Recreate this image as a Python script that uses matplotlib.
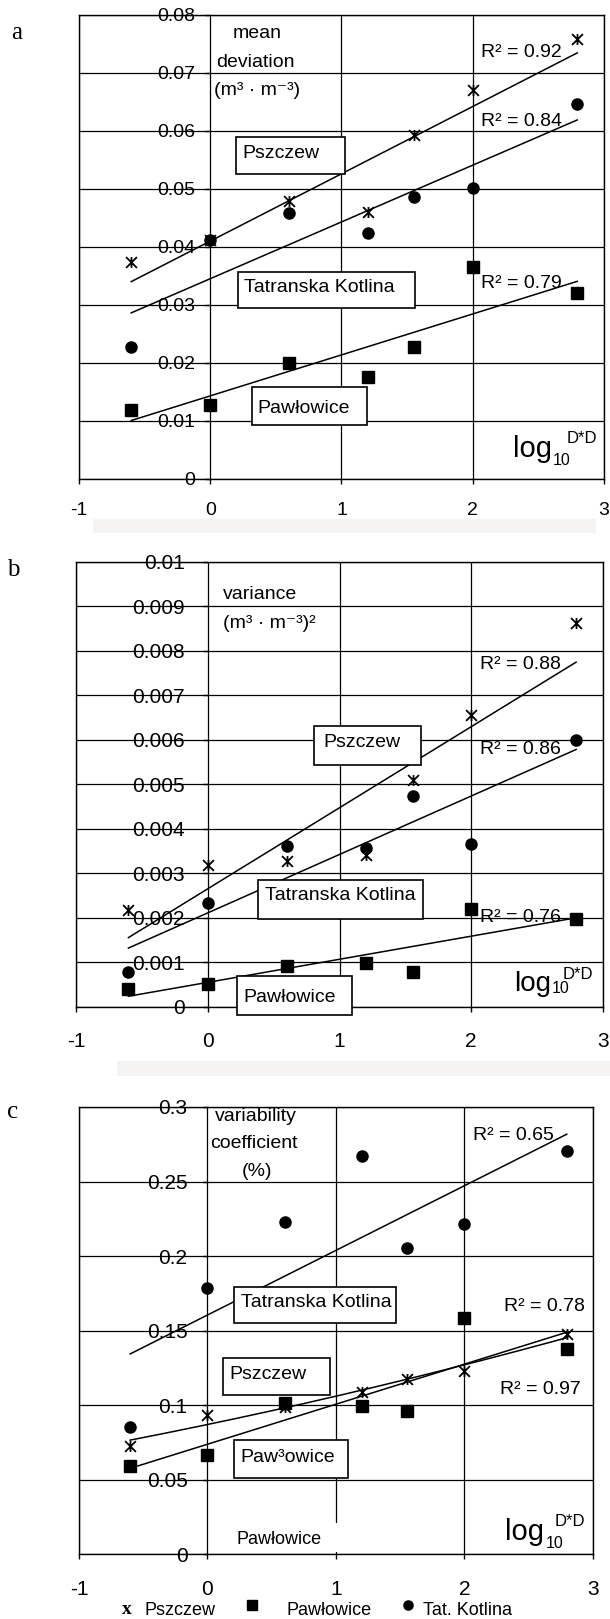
import numpy as np
import matplotlib
matplotlib.use("Agg")
import matplotlib.pyplot as plt
from matplotlib.patches import Rectangle
from matplotlib.lines import Line2D
from matplotlib.path import Path

plt.rcParams['font.family'] = ['Liberation Sans', 'DejaVu Sans']
plt.rcParams['axes.unicode_minus'] = False

# ---------------- data ----------------
log_dd = [-0.602, 0.0, 0.602, 1.204, 1.556, 2.0, 2.796]
x_ticks = [-1, 0, 1, 2, 3]

a_pszczew = [0.0374, 0.0412, 0.0479, 0.0460, 0.0593, 0.0671, 0.0759]
a_pawlowice = [0.0119, 0.0128, 0.0200, 0.0176, 0.0228, 0.0366, 0.0320]
a_tatkotlina = [0.0228, 0.0412, 0.0459, 0.0424, 0.0486, 0.0502, 0.0646]
a_yticks = [0, 0.01, 0.02, 0.03, 0.04, 0.05, 0.06, 0.07, 0.08]

b_pszczew = [0.00217, 0.00318, 0.00328, 0.00340, 0.00510, 0.00656, 0.00862]
b_pawlowice = [0.00039, 0.00050, 0.00091, 0.00099, 0.00079, 0.00219, 0.00198]
b_tatkotlina = [0.00077, 0.00232, 0.00362, 0.00357, 0.00474, 0.00366, 0.00600]
b_yticks = [0, 0.001, 0.002, 0.003, 0.004, 0.005, 0.006, 0.007, 0.008, 0.009, 0.01]

c_pszczew = [0.0724, 0.0932, 0.0988, 0.1086, 0.1176, 0.1227, 0.1477]
c_pawlowice = [0.0589, 0.0665, 0.1012, 0.0993, 0.0963, 0.1587, 0.1379]
c_tatkotlina = [0.0849, 0.1782, 0.2228, 0.2670, 0.2056, 0.2215, 0.2707]
c_yticks = [0, 0.05, 0.1, 0.15, 0.2, 0.25, 0.3]

legend_labels = ["Pszczew", "Pawłowice", "Tat. Kotlina"]

# ---------------- figure ----------------
W, H = 610, 1619
fig = plt.figure(figsize=(W / 100, H / 100), dpi=100)


def fx(px):
    return px / W


def fy(py):
    return 1 - py / H


ast = Path([(0, -1), (0, 1), (-1, -1), (1, 1), (-1, 1), (1, -1)],
           [Path.MOVETO, Path.LINETO, Path.MOVETO, Path.LINETO, Path.MOVETO, Path.LINETO])


def make_axes(l, r, t, b):
    return fig.add_axes([fx(l), fy(b), fx(r - l), (b - t) / H])


def setup(ax, ymax, yticks, lab_size, ypad, xpad):
    ax.set_xlim(-1, 3)
    ax.set_ylim(0, ymax)
    ax.set_axisbelow(True)
    ax.set_xticks(x_ticks)
    ax.set_xticklabels([f"{v:g}" for v in x_ticks])
    ax.set_yticks(yticks)
    ax.tick_params(axis='y', left=False, labelleft=False)
    ax.tick_params(axis='x', direction='out', length=3.6, width=1,
                   labelsize=lab_size, pad=xpad, colors='black')
    ax.grid(True, color='black', lw=0.9)
    for s in ax.spines.values():
        s.set_linewidth(1.0)
        s.set_color('black')
    sec = ax.secondary_yaxis(0.25)
    sec.set_yticks(yticks)
    sec.set_yticklabels([f"{v:g}" for v in yticks])
    sec.tick_params(direction='out', length=3.6, width=1, labelsize=lab_size,
                    pad=ypad)
    sec.spines['left'].set_visible(False)


def trend(ax, y, deg=1):
    coef = np.polyfit(log_dd, y, deg)
    xs = np.linspace(min(log_dd), max(log_dd), 200)
    ax.plot(xs, np.polyval(coef, xs), color='black', lw=1.1, zorder=2)


def points(ax, psz, paw, tat):
    ax.plot(log_dd, tat, 'o', color='black', ms=8, zorder=3, clip_on=False)
    ax.plot(log_dd, paw, 's', color='black', ms=8.2, zorder=3, clip_on=False)
    ax.plot(log_dd, psz, ls='none', marker=ast, color='black', ms=7.8, mew=1.3,
            zorder=3.1, clip_on=False)


def box(ax, x0, x1, y0, y1, tx, ty, text, size=14):
    ax.add_patch(Rectangle((x0, y0), x1 - x0, y1 - y0, facecolor='white',
                           edgecolor='black', lw=1.2, zorder=4, clip_on=False))
    ax.annotate(text, (tx, ty), xytext=(0, -1.5), textcoords='offset points',
                fontsize=size, ha='left', va='center', zorder=5)


def logtext(ax, p_log, p_10, p_dd, size_log):
    ax.text(*p_log, "log", fontsize=size_log, ha='left', va='baseline', zorder=5)
    ax.text(*p_10, "10", fontsize=11.5, ha='left', va='baseline', zorder=5)
    ax.text(*p_dd, "D*D", fontsize=12, ha='left', va='baseline', zorder=5)


# ---------------- panel a ----------------
ax = make_axes(79, 604, 15, 479)
setup(ax, 0.08, a_yticks, 14, 7.2, 13)
points(ax, a_pszczew, a_pawlowice, a_tatkotlina)
trend(ax, a_pszczew)
trend(ax, a_tatkotlina)
trend(ax, a_pawlowice)
ax.text(0.36, 0.0768, "mean", fontsize=14, ha='center', va='center')
ax.text(0.346, 0.0718, "deviation", fontsize=14, ha='center', va='center')
ax.text(0.354, 0.0670, "(m³ · m⁻³)", fontsize=14, ha='center', va='center')
box(ax, 0.198, 1.025, 0.0525, 0.0590, 0.248, 0.0564, "Pszczew")
box(ax, 0.213, 1.563, 0.0294, 0.0357, 0.257, 0.0333, "Tatranska Kotlina")
box(ax, 0.316, 1.196, 0.0093, 0.0158, 0.357, 0.0126, "Pawłowice")
ax.text(2.065, 0.0735, "R² = 0.92", fontsize=14, ha='left', va='center', zorder=5)
ax.text(2.065, 0.0616, "R² = 0.84", fontsize=14, ha='left', va='center', zorder=5)
ax.text(2.065, 0.0337, "R² = 0.79", fontsize=14, ha='left', va='center', zorder=5)
logtext(ax, (2.307, 0.00384), (2.609, 0.00241), (2.716, 0.00621), 21)

# ---------------- panel b ----------------
ax = make_axes(76, 603, 561.7, 1006.7)
setup(ax, 0.01, b_yticks, 15, 13, 14.4)
points(ax, b_pszczew, b_pawlowice, b_tatkotlina)
trend(ax, b_pszczew)
trend(ax, b_tatkotlina)
trend(ax, b_pawlowice)
ax.text(0.115, 0.00926, "variance", fontsize=14, ha='left', va='center')
ax.text(0.115, 0.00860, "(m³ · m⁻³)²", fontsize=14, ha='left', va='center')
box(ax, 0.807, 1.617, 0.00543, 0.00631, 0.875, 0.00598, "Pszczew")
box(ax, 0.383, 1.635, 0.00197, 0.00285, 0.433, 0.00255, "Tatranska Kotlina")
box(ax, 0.221, 1.096, -0.00018, 0.00069, 0.271, 0.00026, "Pawłowice")
ax.text(2.068, 0.00770, "R² = 0.88", fontsize=14, ha='left', va='center', zorder=5)
ax.text(2.068, 0.00578, "R² = 0.86", fontsize=14, ha='left', va='center', zorder=5)
ax.text(2.068, 0.00200, "R² = 0.76", fontsize=14, ha='left', va='center', zorder=5)
logtext(ax, (2.327, 0.000353), (2.613, 0.000315), (2.694, 0.000622), 20)

# ---------------- panel c ----------------
ax = make_axes(79, 593, 1107, 1554)
setup(ax, 0.3, c_yticks, 15, 10.8, 15)
points(ax, c_pszczew, c_pawlowice, c_tatkotlina)
trend(ax, c_tatkotlina)
trend(ax, c_pawlowice)
trend(ax, c_pszczew, deg=2)
ax.add_patch(Rectangle((0.2, 0.0015), 0.9, 0.0193, facecolor='white',
                       edgecolor='none', zorder=1))
ax.text(0.373, 0.2934, "variability", fontsize=14, ha='center', va='center')
ax.text(0.358, 0.2758, "coefficient", fontsize=14, ha='center', va='center')
ax.text(0.388, 0.2567, "(%)", fontsize=14, ha='center', va='center')
box(ax, 0.206, 1.466, 0.1548, 0.1792, 0.258, 0.1699, "Tatranska Kotlina")
box(ax, 0.124, 0.950, 0.1064, 0.1315, 0.170, 0.1222, "Pszczew")
box(ax, 0.206, 1.093, 0.0513, 0.0763, 0.258, 0.0660, "Paw³owice")
ax.text(0.228, 0.0098, "Pawłowice", fontsize=13, ha='left', va='center', zorder=5)
ax.text(2.067, 0.2812, "R² = 0.65", fontsize=14, ha='left', va='center', zorder=5)
ax.text(2.310, 0.1663, "R² = 0.78", fontsize=14, ha='left', va='center', zorder=5)
ax.text(2.276, 0.1105, "R² = 0.97", fontsize=14, ha='left', va='center', zorder=5)
logtext(ax, (2.315, 0.0094), (2.634, 0.0038), (2.704, 0.0190), 21)

# ---------------- panel letters ----------------
for lx, ly, s in [(11.5, 39, 'a'), (7, 576, 'b'), (7, 1118, 'c')]:
    fig.text(fx(lx), fy(ly), s, fontsize=18, family=['Liberation Serif', 'DejaVu Serif'],
             ha='left', va='baseline')

# ---------------- gray bands ----------------
for (x0, x1, y0, y1) in [(92.7, 595.7, 519.3, 533.3), (117, 610, 1061, 1076)]:
    fig.patches.append(Rectangle((fx(x0), fy(y1)), fx(x1 - x0), (y1 - y0) / H,
                                 transform=fig.transFigure, facecolor='#f5f4f2',
                                 edgecolor='none', zorder=0))

# ---------------- legend ----------------
fig.text(fx(121.5), fy(1614), "x", fontsize=14, weight='bold',
         family=['Liberation Serif', 'DejaVu Serif'], ha='left', va='baseline')
fig.text(fx(144), fy(1615), legend_labels[0], fontsize=13, ha='left', va='baseline')
fig.add_artist(Line2D([fx(251.7)], [fy(1604.5)], marker='s', ms=7.2, color='black',
                      transform=fig.transFigure))
fig.text(fx(286.7), fy(1615), legend_labels[1], fontsize=13, ha='left', va='baseline')
fig.add_artist(Line2D([fx(407.5)], [fy(1605)], marker='o', ms=6.6, color='black',
                      transform=fig.transFigure))
fig.text(fx(422.7), fy(1615), legend_labels[2], fontsize=13, ha='left', va='baseline')

fig.savefig("out.png", dpi=100)
